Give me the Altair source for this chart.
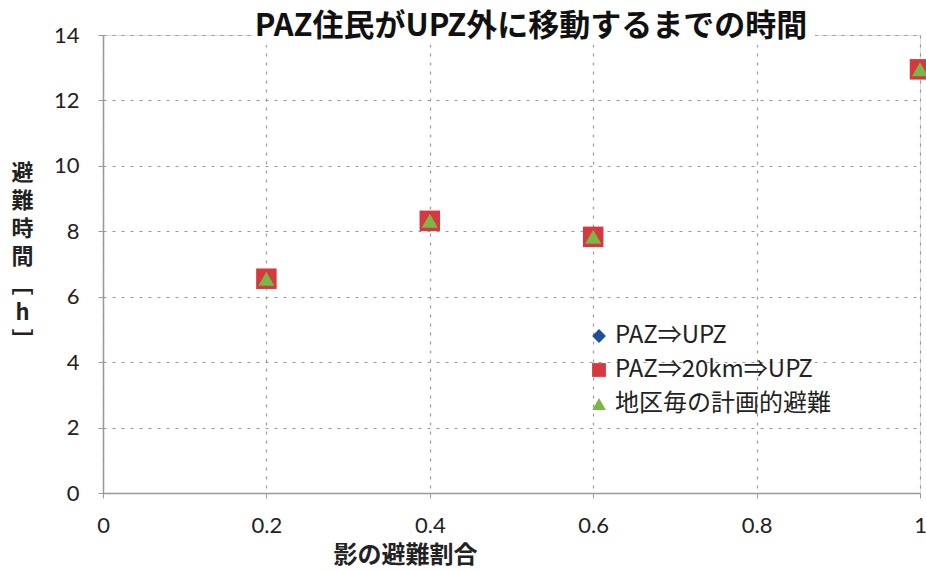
import altair as alt
import pandas as pd

x_vals = [0.2, 0.4, 0.6, 1.0]
series_names = ["PAZ⇒UPZ", "PAZ⇒20km⇒UPZ", "地区毎の計画的避難"]
s1 = [6.55, 8.32, 7.83, 12.95]
s2 = [6.55, 8.32, 7.83, 12.95]
s3 = [6.55, 8.32, 7.83, 12.95]
colors = ["#1f4e9c", "#d5383e", "#7ab648"]
shapes = ["diamond", "square", "triangle-up"]
sizes = [320, 420, 260]
x_ticks = [0, 0.2, 0.4, 0.6, 0.8, 1]
y_ticks = [0, 2, 4, 6, 8, 10, 12, 14]
title_text = "PAZ住民がUPZ外に移動するまでの時間"

FONT = "Noto Sans CJK JP"

x_enc = alt.X("x:Q", scale=alt.Scale(domain=[0, 1], nice=False),
              axis=alt.Axis(values=x_ticks, title="影の避難割合", labelFontSize=22, format="~g",
                            labelFont="Lato", labelColor="#222", labelPadding=17,
                            titleFont=FONT, titleFontSize=24, titleFontWeight="bold",
                            titleColor="#222", titleX=302, titleY=62,
                            titleBaseline="middle", titleAnchor="middle",
                            grid=True, gridColor="#999", gridDash=[3, 6], gridWidth=1.2,
                            domainColor="#999", domainWidth=1.5, tickColor="#999", tickSize=5,
                            labelFlush=False, labelOverlap=False))
y_enc = alt.Y("y:Q", scale=alt.Scale(domain=[0, 14], nice=False),
              axis=alt.Axis(values=y_ticks, title=["避", "難", "時", "間", "﹇", "h", "﹈"],
                            labelFontSize=22, labelFont="Lato", labelColor="#222", labelPadding=19,
                            titleFont=FONT, titleFontSize=22, titleFontWeight="bold",
                            titleColor="#222", titleAngle=0, titleX=-81, titleY=127,
                            titleLineHeight=28, titleAlign="center", titleBaseline="top",
                            grid=True, gridColor="#999", gridDash=[3, 6], gridWidth=1.2,
                            domainColor="#999", domainWidth=1.5, tickColor="#999", tickSize=5))
color_enc = alt.Color("series:N", scale=alt.Scale(domain=series_names, range=colors),
                      legend=alt.Legend(title=None, orient="none", legendX=484, legendY=289,
                                        labelFont=FONT, labelFontSize=24, labelColor="#222",
                                        symbolSize=190, rowPadding=10, labelOffset=4,
                                        labelLimit=0, symbolStrokeWidth=0))
shape_enc = alt.Shape("series:N", scale=alt.Scale(domain=series_names, range=shapes))

layers = []
for name, vals, sz in zip(series_names, [s1, s2, s3], sizes):
    d = pd.DataFrame({"x": x_vals, "y": vals, "series": [name] * len(x_vals)})
    layers.append(
        alt.Chart(d).mark_point(filled=True, opacity=1, size=sz).encode(
            x=x_enc, y=y_enc, color=color_enc, shape=shape_enc
        )
    )

one = pd.DataFrame({"t": [title_text]})
cover = alt.Chart(one).mark_rect(color="white").encode(
    x=alt.value(150), x2=alt.value(712), y=alt.value(-14), y2=alt.value(10)
)
title_mark = alt.Chart(one).mark_text(
    font=FONT, fontSize=31, fontWeight="bold", color="#111", align="center", baseline="middle"
).encode(x=alt.value(428), y=alt.value(-8), text="t:N")

chart = alt.layer(cover, *layers, title_mark).properties(
    width=817, height=458,
    autosize=alt.AutoSizeParams(type="none"),
    padding={"left": 103, "top": 35, "right": 6, "bottom": 78},
).configure_view(stroke=None).configure(background="white")

chart.save("out.html", embed_options={"renderer": "svg", "actions": False})
